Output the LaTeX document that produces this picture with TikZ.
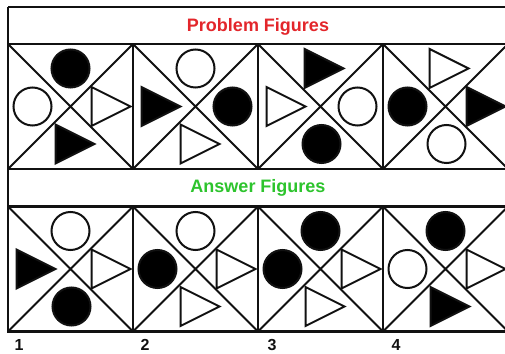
\documentclass[tikz,border=0pt]{standalone}
\usepackage{fontspec}
\setmainfont{Liberation Sans}
\usetikzlibrary{calc}
\definecolor{TitleRed}{HTML}{E3262B}
\definecolor{TitleGreen}{HTML}{2DC42D}
\definecolor{FrameInk}{HTML}{111111}

\tikzset{
  pics/disc/.style={code={\draw[shapeline,fill=#1] (0,0) circle[radius=19];}},
  pics/flag/.style={code={\draw[shapeline,fill=#1] (-16,19.5)--(-16,-19.5)--(23,0)--cycle;}}
}

\begin{document}
\begin{tikzpicture}[
  x=1pt,y=1pt,
  frameline/.style={draw=FrameInk,line width=2.7pt},
  crossline/.style={draw=FrameInk,line width=1.9pt},
  shapeline/.style={draw=FrameInk,line width=2pt},
  headtext/.style={font=\bfseries\fontsize{18}{20}\selectfont},
  numlabel/.style={font=\bfseries\fontsize{16}{18}\selectfont,text=FrameInk}
]
  \clip (0,0) rectangle (505,353);
  \fill[white] (0,0) rectangle (505,353);

  % title strips
  \draw[FrameInk,line width=1.6pt] (8,346)--(520,346);
  \draw[frameline] (8,346)--(8,309);
  \draw[frameline] (8,184)--(8,147);
  \node[headtext,text=TitleRed] (probtitle) at (258,326) {Problem Figures};
  \node[headtext,text=TitleGreen] (anstitle) at (258,165) {Answer Figures};

  % squares with their diagonals
  \foreach \name/\cx/\cy in {p1/70.5/246.5,p2/195.5/246.5,p3/320.5/246.5,p4/445.5/246.5,
                             a1/70.5/84,a2/195.5/84,a3/320.5/84,a4/445.5/84}{
    \draw[crossline] (\cx-62.5,\cy-62.5)--(\cx+62.5,\cy+62.5)
      (\cx-62.5,\cy+62.5)--(\cx+62.5,\cy-62.5);
    \draw[frameline] (\cx-62.5,\cy-62.5) rectangle (\cx+62.5,\cy+62.5);
    \coordinate (\name-t) at (\cx,\cy+38);
    \coordinate (\name-l) at (\cx-38,\cy);
    \coordinate (\name-r) at (\cx+37,\cy);
    \coordinate (\name-b) at (\cx+1,\cy-37.5);
  }

  % problem figures
  \pic at (p1-t) {disc=black}; \pic at (p1-l) {disc=white};
  \pic at (p1-r) {flag=white}; \pic at (p1-b) {flag=black};
  \pic at (p2-t) {disc=white}; \pic at (p2-l) {flag=black};
  \pic at (p2-r) {disc=black}; \pic at (p2-b) {flag=white};
  \pic at (p3-t) {flag=black}; \pic at (p3-l) {flag=white};
  \pic at (p3-r) {disc=white}; \pic at (p3-b) {disc=black};
  \pic at (p4-t) {flag=white}; \pic at (p4-l) {disc=black};
  \pic at (p4-r) {flag=black}; \pic at (p4-b) {disc=white};

  % answer figures
  \pic at (a1-t) {disc=white}; \pic at (a1-l) {flag=black};
  \pic at (a1-r) {flag=white}; \pic at (a1-b) {disc=black};
  \pic at (a2-t) {disc=white}; \pic at (a2-l) {disc=black};
  \pic at (a2-r) {flag=white}; \pic at (a2-b) {flag=white};
  \pic at (a3-t) {disc=black}; \pic at (a3-l) {disc=black};
  \pic at (a3-r) {flag=white}; \pic at (a3-b) {flag=white};
  \pic at (a4-t) {disc=black}; \pic at (a4-l) {disc=white};
  \pic at (a4-r) {flag=white}; \pic at (a4-b) {flag=black};

  \node[numlabel] (num1) at (19,8) {1};
  \node[numlabel] (num2) at (145,8) {2};
  \node[numlabel] (num3) at (272,8) {3};
  \node[numlabel] (num4) at (396,8) {4};
\end{tikzpicture}
\end{document}
